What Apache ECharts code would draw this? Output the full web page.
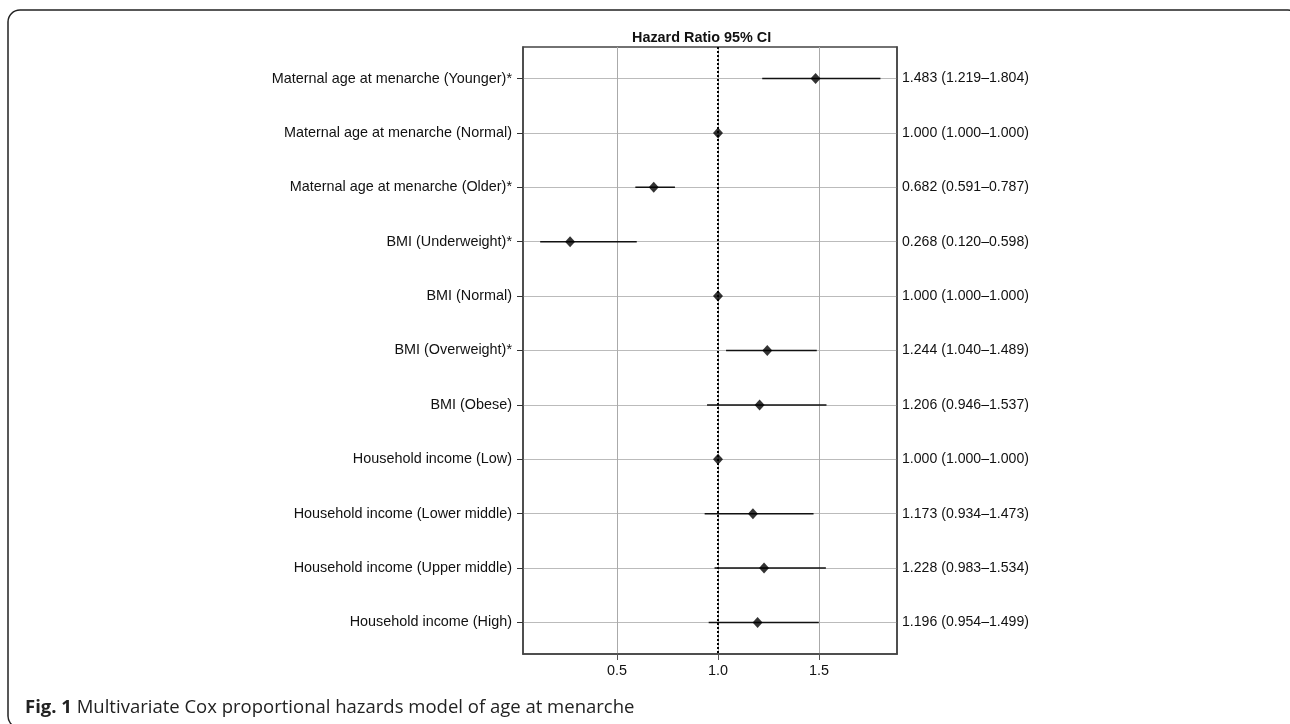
<!DOCTYPE html>
<html>
<head>
<meta charset="UTF-8">
<script type="text/javascript" src="https://cdn.jsdelivr.net/npm/echarts@6/dist/echarts.min.js"></script>
<style>
  html, body { margin: 0; padding: 0; background: #fff; }
  #chartmain { width: 1290px; height: 724px; }
</style>
</head>
<body>
<div id="chartmain"></div>
<script type="text/javascript">
  // row labels, top to bottom
  var categories = [
    'Maternal age at menarche (Younger)*',
    'Maternal age at menarche (Normal)',
    'Maternal age at menarche (Older)*',
    'BMI (Underweight)*',
    'BMI (Normal)',
    'BMI (Overweight)*',
    'BMI (Obese)',
    'Household income (Low)',
    'Household income (Lower middle)',
    'Household income (Upper middle)',
    'Household income (High)'
  ];
  var hr    = [1.483, 1.000, 0.682, 0.268, 1.000, 1.244, 1.206, 1.000, 1.173, 1.228, 1.196];
  var lower = [1.219, 1.000, 0.591, 0.120, 1.000, 1.040, 0.946, 1.000, 0.934, 0.983, 0.954];
  var upper = [1.804, 1.000, 0.787, 0.598, 1.000, 1.489, 1.537, 1.000, 1.473, 1.534, 1.499];
  var xTicks = [0.5, 1.0, 1.5];
  var rows = [1, 2, 3, 4, 5, 6, 7, 8, 9, 10, 11];

  var FONT = "'Liberation Sans', Arial, sans-serif";
  var CAPFONT = "'Open Sans', 'Liberation Sans', sans-serif";

  var points = [], ciData = [];
  for (var i = 0; i < hr.length; i++) {
    points.push([hr[i], rows[i]]);
    ciData.push([lower[i], upper[i], rows[i]]);
  }
  function ciText(i) {
    return hr[i].toFixed(3) + ' (' + lower[i].toFixed(3) + '\u2013' + upper[i].toFixed(3) + ')';
  }

  var yBase = {
    type: 'value',
    min: 0.42,
    max: 11.58,
    inverse: true,
    axisLine: { show: true, lineStyle: { color: '#444', width: 1.5 } }
  };

  var option = {
    animation: false,
    backgroundColor: '#fff',
    title: {
      text: 'Hazard Ratio 95% CI',
      left: 627,
      top: 26,
      textStyle: { fontFamily: FONT, fontSize: 14.4, fontWeight: 'bold', color: '#111' }
    },
    grid: {
      left: 523, right: 393, top: 47, bottom: 70,
      show: true, borderColor: '#444', borderWidth: 1.5, backgroundColor: 'transparent'
    },
    xAxis: {
      type: 'value',
      min: 0.035,
      max: 1.886,
      axisLine: { show: true, onZero: false, lineStyle: { color: '#444', width: 1.5 } },
      axisTick: { show: true, customValues: xTicks, length: 6, lineStyle: { color: '#555' } },
      axisLabel: {
        customValues: xTicks,
        formatter: function (v) { return v.toFixed(1); },
        fontFamily: FONT, fontSize: 14.4, color: '#111', margin: 10
      },
      splitLine: { show: true, lineStyle: { color: '#aaa', width: 1 } }
    },
    yAxis: [
      Object.assign({}, yBase, {
        position: 'left',
        axisTick: { show: true, customValues: rows, length: 6, lineStyle: { color: '#333' } },
        axisLabel: {
          customValues: rows,
          formatter: function (v) { return categories[Math.round(v) - 1]; },
          fontFamily: FONT, fontSize: 14.4, color: '#111', margin: 11
        },
        splitLine: { show: true, lineStyle: { color: '#bbb', width: 1 } }
      }),
      Object.assign({}, yBase, {
        position: 'right',
        axisTick: { show: false, customValues: rows },
        axisLabel: {
          customValues: rows,
          formatter: function (v) { return ciText(Math.round(v) - 1); },
          fontFamily: FONT, fontSize: 14.1, color: '#111', margin: 5
        },
        splitLine: { show: false }
      })
    ],
    series: [
      {
        // reference line at HR = 1
        type: 'scatter',
        data: [],
        z: 2,
        markLine: {
          silent: true,
          symbol: 'none',
          label: { show: false },
          lineStyle: { color: '#000', type: [2, 2], width: 2 },
          data: [{ xAxis: 1 }]
        }
      },
      {
        type: 'custom',
        z: 3,
        renderItem: function (params, api) {
          var a = api.coord([api.value(0), api.value(2)]);
          var b = api.coord([api.value(1), api.value(2)]);
          return {
            type: 'line',
            shape: { x1: a[0], y1: a[1], x2: b[0], y2: b[1] },
            style: { stroke: '#111', lineWidth: 1.5 }
          };
        },
        encode: { x: [0, 1], y: 2 },
        data: ciData
      },
      {
        type: 'scatter',
        z: 4,
        symbol: 'diamond',
        symbolSize: [10, 11],
        itemStyle: { color: '#000' },
        data: points
      }
    ],
    graphic: [
      {
        type: 'rect',
        shape: { x: 8, y: 10, width: 1292, height: 718, r: 12 },
        style: { fill: 'none', stroke: '#222', lineWidth: 1.5 },
        silent: true
      },
      {
        type: 'text',
        left: 25,
        top: 698,
        style: {
          text: '{b|Fig. 1} Multivariate Cox proportional hazards model of age at menarche',
          fontFamily: CAPFONT,
          fontSize: 18.5,
          fill: '#222',
          rich: {
            b: { fontFamily: CAPFONT, fontSize: 18.5, fontWeight: 'bold', fill: '#222' }
          }
        }
      }
    ]
  };

  var myChart = echarts.init(document.getElementById('chartmain'));
  myChart.setOption(option);
</script>
</body>
</html>
